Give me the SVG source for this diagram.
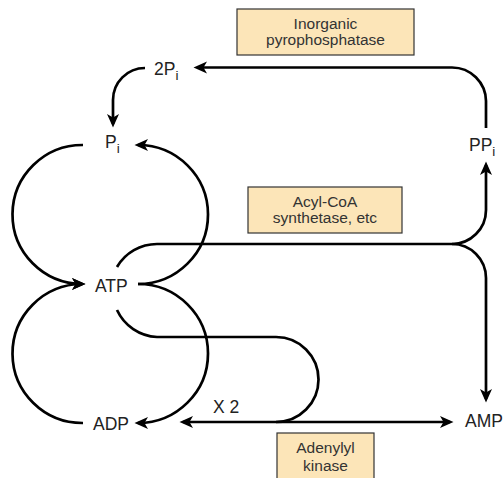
<svg xmlns="http://www.w3.org/2000/svg" width="504" height="478" viewBox="0 0 504 478">
<style>
.c{fill:none;stroke:#000;stroke-width:2.7}
.lbl{font-family:"Liberation Sans",Arial,sans-serif;font-size:17.5px;fill:#222}
.sub{font-size:13.5px}
.box{fill:#fce5b8;stroke:#333;stroke-width:1.2}
.bt{font-family:"Liberation Sans",Arial,sans-serif;font-size:15.5px;fill:#333;text-anchor:middle}
</style>
<defs>
<marker id="ah" markerUnits="userSpaceOnUse" markerWidth="16" markerHeight="14" viewBox="-1 -7 16 14" refX="10" refY="0" orient="auto">
<path d="M0,-6 L13.5,0 L0,6 L3.5,0 z" fill="#000"/>
</marker>
<marker id="ahs" markerUnits="userSpaceOnUse" markerWidth="16" markerHeight="14" viewBox="-1 -7 16 14" refX="10" refY="0" orient="auto-start-reverse">
<path d="M0,-6 L13.5,0 L0,6 L3.5,0 z" fill="#000"/>
</marker>
</defs>
<g id="connectors">
<path class="c" d="M486,128 V101 A34,34 0 0 0 452,67.5 H197" marker-end="url(#ah)"/>
<path class="c" d="M145,68 A32,32 0 0 0 113,100 V124" marker-end="url(#ah)"/>
<path class="c" d="M83,145 A70,69.5 0 0 0 82,284" marker-end="url(#ah)"/>
<path class="c" d="M138,284 A70,69.5 0 0 0 138,145" marker-end="url(#ah)"/>
<path class="c" d="M83,423 A70,69.5 0 0 1 82,284" marker-end="url(#ah)"/>
<path class="c" d="M138,284 A70,69.5 0 0 1 138,423" marker-end="url(#ah)"/>
<path class="c" d="M117,267 A46.5,46.5 0 0 1 157,244 H452 A34,34 0 0 0 486,210 V165" marker-end="url(#ah)"/>
<path class="c" d="M452,244 A34,34 0 0 1 486,278 V399" marker-end="url(#ah)"/>
<path class="c" d="M117,310 A46.5,46.5 0 0 0 157,337 H276 A42.5,42.5 0 0 1 276,422"/>
<path class="c" d="M183,422 H450" marker-start="url(#ahs)" marker-end="url(#ah)"/>
</g>
<g id="node-2Pi"><text class="lbl" x="154" y="75">2P<tspan class="sub" dy="4.5">i</tspan></text></g>
<g id="node-Pi"><text class="lbl" x="105" y="148">P<tspan class="sub" dy="4.5">i</tspan></text></g>
<g id="node-PPi"><text class="lbl" x="469" y="151">PP<tspan class="sub" dy="4.5">i</tspan></text></g>
<g id="node-ATP"><text class="lbl" x="95" y="292">ATP</text></g>
<g id="node-ADP"><text class="lbl" x="93" y="430">ADP</text></g>
<g id="node-AMP"><text class="lbl" x="465" y="427">AMP</text></g>
<g id="label-x2"><text class="lbl" x="213" y="413">X 2</text></g>
<g id="enzyme-pyrophosphatase">
<rect class="box" x="237" y="9" width="177" height="46"/>
<text class="bt" x="325.5" y="28.5">Inorganic</text>
<text class="bt" x="325.5" y="45">pyrophosphatase</text>
</g>
<g id="enzyme-acylcoa">
<rect class="box" x="248" y="187" width="154" height="46"/>
<text class="bt" x="325" y="207">Acyl-CoA</text>
<text class="bt" x="325" y="223">synthetase, etc</text>
</g>
<g id="enzyme-adenylyl">
<rect class="box" x="277" y="433" width="97" height="50"/>
<text class="bt" x="325.5" y="453">Adenylyl</text>
<text class="bt" x="325.5" y="471">kinase</text>
</g>
</svg>
